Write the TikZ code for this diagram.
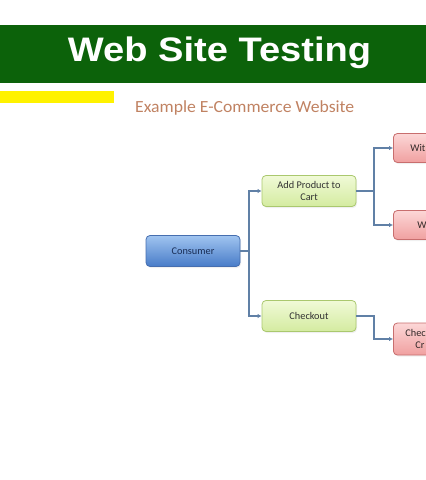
\documentclass[tikz,border=0pt]{standalone}
\usepackage{fontspec}
\setmainfont{Carlito}
\newfontfamily\titlefont{Liberation Sans}
\usetikzlibrary{arrows.meta,shadows}

\definecolor{bannergreen}{RGB}{12,98,10}
\definecolor{subbrown}{RGB}{192,130,98}
\definecolor{linkblue}{RGB}{96,128,166}

\tikzset{
  box/.style={rounded corners=4pt, minimum height=31pt, inner sep=2pt, align=center,
    font=\fontsize{10.3}{12}\selectfont, line width=0.8pt,
    drop shadow={opacity=0.12, shadow xshift=1pt, shadow yshift=-1.5pt}},
  bluebox/.style={box, draw={rgb,255:red,70;green,110;blue,175}, top color={rgb,255:red,160;green,196;blue,240},
    bottom color={rgb,255:red,72;green,124;blue,200}, text={rgb,255:red,25;green,45;blue,85}, minimum width=94pt},
  greenbox/.style={box, draw={rgb,255:red,170;green,200;blue,110}, top color={rgb,255:red,240;green,250;blue,215},
    bottom color={rgb,255:red,212;green,235;blue,160}, text={rgb,255:red,50;green,50;blue,50}, minimum width=94pt},
  redbox/.style={box, draw={rgb,255:red,200;green,110;blue,110}, top color={rgb,255:red,252;green,215;blue,215},
    bottom color={rgb,255:red,240;green,160;blue,160}, text={rgb,255:red,50;green,40;blue,40},
    minimum height=29pt, anchor=west, align=left, text width=70pt},
  link/.style={draw=linkblue, line width=2pt, -{Latex[length=4pt,width=4.5pt]}},
}

\begin{document}
\begin{tikzpicture}[x=1pt, y=-1pt]
\useasboundingbox (0,0) rectangle (426,480);
\begin{scope}
\clip (0,0) rectangle (426,480);

% banner and title
\fill[bannergreen] (0,25) rectangle (426,83);
\node[anchor=base, text=white, inner sep=0pt] (title) at (219.5,61)
  {\scalebox{1.12}[1]{\titlefont\bfseries\fontsize{34}{34}\selectfont Web Site Testing}};
\fill[yellow] (0,91) rectangle (114,103);
\node[anchor=base west, text=subbrown, inner sep=0pt] (subtitle) at (135,112)
  {\scalebox{1.04}[1]{\fontsize{17}{17}\selectfont Example E-Commerce Website}};

% boxes
\node[bluebox] (consumer) at (193,251) {Consumer};
\node[greenbox] (addcart) at (309,191) {Add Product to\\Cart};
\node[greenbox] (checkout) at (309,316) {Checkout};
\node[redbox, inner xsep=17pt] (with) at (393,148) {Wit};
\node[redbox, inner xsep=24pt] (without) at (393,225) {W};
\node[redbox, inner xsep=12pt, minimum height=32pt] (credit) at (393,339) {Chec\\\hspace*{10pt}Cr};

% connectors
\draw[link] (consumer.east) -- ++(9,0) |- (addcart.west);
\draw[link] (consumer.east) -- ++(9,0) |- (checkout.west);
\draw[link] (addcart.east) -- ++(18,0) |- (with.west);
\draw[link] (addcart.east) -- ++(18,0) |- (without.west);
\draw[link] (checkout.east) -- ++(18,0) |- (credit.west);
\end{scope}
\end{tikzpicture}
\end{document}
